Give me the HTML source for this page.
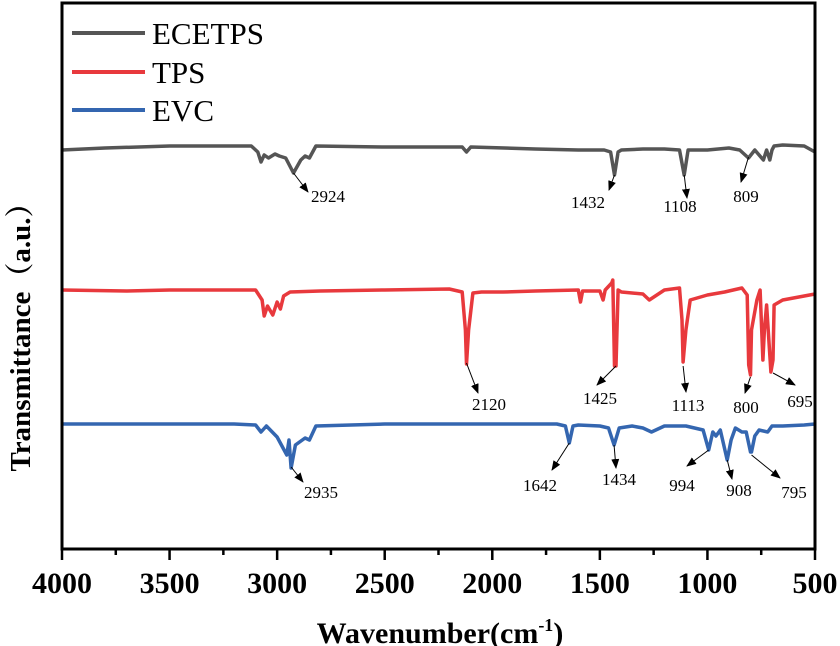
<!DOCTYPE html>
<html><head><meta charset="utf-8"><style>
html,body{margin:0;padding:0;background:#fff;width:840px;height:646px;overflow:hidden}
svg{display:block}
</style></head><body>
<svg id="chart" width="840" height="646" xmlns="http://www.w3.org/2000/svg">
<defs><marker id="ah" markerWidth="10" markerHeight="8" refX="9" refY="4" orient="auto" markerUnits="userSpaceOnUse"><path d="M0,0 L10,4 L0,8 z" fill="#000"/></marker></defs>
<g id="series"></g>
<g id="annots"></g>
<rect x="62" y="3" width="753" height="546" fill="none" stroke="#000" stroke-width="3"/>
<g id="xaxis"></g>
<text x="440" y="643" text-anchor="middle" font-family="Liberation Serif, serif" font-weight="bold" font-size="30">Wavenumber(cm<tspan font-size="18" dy="-12">-1</tspan><tspan dy="12">)</tspan></text>
<text transform="translate(30,330) rotate(-90)" text-anchor="middle" font-family="Liberation Serif, 'Noto Serif CJK SC', serif" font-weight="bold" font-size="29">Transmittance（a.u.）</text>
<g font-family="Liberation Serif, serif" font-size="31">
<line x1="72" y1="33" x2="145" y2="33" stroke="#555" stroke-width="4"/>
<text x="152" y="44">ECETPS</text>
<line x1="72" y1="72" x2="145" y2="72" stroke="#e8393d" stroke-width="4"/>
<text x="152" y="83">TPS</text>
<line x1="72" y1="110" x2="145" y2="110" stroke="#3466b0" stroke-width="4"/>
<text x="152" y="121">EVC</text>
</g>
</svg>
<script>
const xTicks=[4000,3500,3000,2500,2000,1500,1000,500];
const wnEcetps=[4000,3800,3500,3200,3120,3090,3075,3060,3040,3010,2990,2960,2924,2890,2870,2850,2820,2500,2140,2120,2100,1800,1600,1480,1450,1432,1415,1400,1300,1200,1130,1108,1090,1000,900,850,809,780,740,725,710,700,690,650,550,500];
const tEcetps=[150,148,146,146,146,152,162,155,158,154,156,158,173,160,156,158,146,147,147,152,147,149,150,150,152,175,152,150,149,149,150,175,150,150,148,150,158,150,160,150,160,150,146,145,146,152];
const wnTps=[4000,3700,3500,3200,3100,3070,3060,3045,3020,3000,2985,2970,2940,2800,2500,2200,2140,2125,2120,2110,2090,2050,1950,1800,1600,1590,1580,1500,1485,1475,1445,1440,1432,1425,1415,1400,1300,1270,1200,1130,1118,1113,1100,1080,1000,920,880,840,815,808,800,795,770,755,742,735,725,705,695,690,650,550,500];
const tTps=[290,291,290,290,290,300,316,306,315,302,309,296,292,291,290,289,292,330,364,330,293,292,292,291,290,302,291,291,300,290,283,280,366,366,290,292,294,300,290,288,320,362,330,300,295,292,290,288,295,365,375,330,300,290,360,330,305,372,360,305,300,296,294];
const wnEvc=[4000,3700,3500,3200,3100,3075,3050,3000,2955,2945,2935,2915,2870,2850,2820,2500,2000,1700,1660,1642,1625,1600,1500,1460,1434,1410,1350,1300,1260,1200,1100,1020,994,975,960,940,908,890,870,840,820,800,795,780,760,720,700,650,550,500];
const tEvc=[424,424,424,424,425,432,426,437,455,440,468,445,438,440,426,424,424,424,426,443,426,425,426,428,445,428,426,428,432,426,426,430,450,432,436,430,460,440,428,432,432,452,452,436,430,432,426,426,425,424];
const peakLabels=["2924","1432","1108","809","2120","1425","1113","800","695","2935","1642","1434","994","908","795"];
const peakWn=[2924,1432,1108,809,2120,1425,1113,800,695,2935,1642,1434,994,908,795];
const peakY=[173,175,175,157,363,366,366,377,373,467,443,445,450,460,455];
const labelX=[328,588,680,746,489,600,688,746,800,321,540,619,682,739,794];
const labelY=[202,208,212,202,410,404,411,413,407,498,491,485,491,496,498];
const tipX=[308,609,687,741,478,597,686,745,795,303,552,616,687,732,780];
const tipY=[192,190,198,182,393,385,392,393,385,482,470,468,466,479,478];
const NS="http://www.w3.org/2000/svg";
const xs=w=>62+(4000-w)*753/3500;
function mk(tag,attrs,parent){const e=document.createElementNS(NS,tag);for(const k in attrs)e.setAttribute(k,attrs[k]);parent.appendChild(e);return e;}
const sg=document.getElementById('series');
const defs=[[wnEcetps,tEcetps,'#555','ecetps'],[wnTps,tTps,'#e8393d','tps'],[wnEvc,tEvc,'#3466b0','evc']];
defs.forEach(d=>{
  const pts=d[0].map((w,i)=>xs(w).toFixed(1)+','+d[1][i]).join(' ');
  const p=mk('polyline',{points:pts,fill:'none',stroke:d[2],'stroke-width':3.5,'stroke-linejoin':'round'},sg);
  
  
});
const ag=document.getElementById('annots');
peakLabels.forEach((lab,i)=>{
  const a=mk('line',{x1:xs(peakWn[i]),y1:peakY[i],x2:tipX[i],y2:tipY[i],stroke:'#000','stroke-width':1,'marker-end':'url(#ah)'},ag);
  
  
  const t=mk('text',{x:labelX[i],y:labelY[i],'text-anchor':'middle','font-family':'Liberation Serif, serif','font-size':17},ag);
  t.textContent=lab;
  
  
});
const xg=document.getElementById('xaxis');
for(let w=4000;w>=500;w-=250){
  const major=w%500===0;
  const l=mk('line',{x1:xs(w),y1:549,x2:xs(w),y2:major?560:555,stroke:'#000','stroke-width':2.5},xg);
  
  
}
xTicks.forEach(v=>{
  const t=mk('text',{x:xs(v),y:593,'text-anchor':'middle','font-family':'Liberation Serif, serif','font-weight':'bold','font-size':30},xg);
  t.textContent=v;
  
  
});
</script>
</body></html>
